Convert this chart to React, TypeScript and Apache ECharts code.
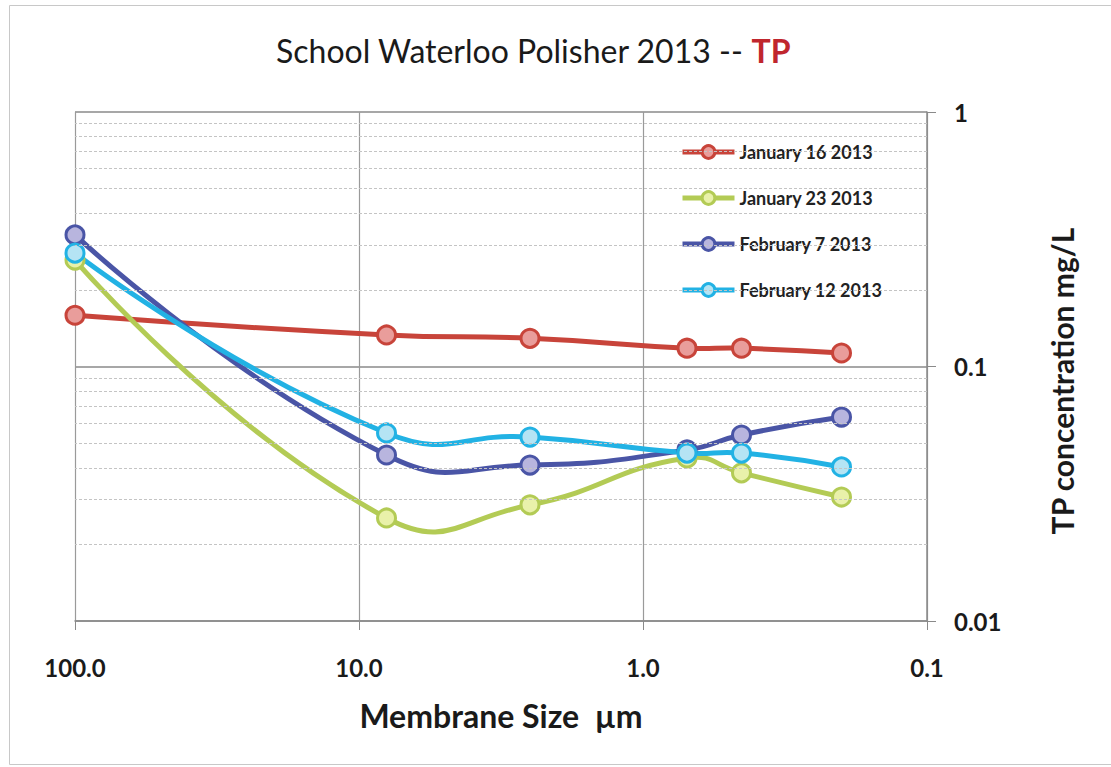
import React, { useEffect, useRef } from 'react';
import * as echarts from 'echarts';

// Membrane sizes (µm)
const sizes = [100, 8, 2.5, 0.7, 0.45, 0.2];
const seriesNames = ['January 16 2013', 'January 23 2013', 'February 7 2013', 'February 12 2013'];
// TP concentration mg/L
const jan16 = [0.159, 0.133, 0.129, 0.118, 0.118, 0.113];
const jan23 = [0.262, 0.0254, 0.0286, 0.0437, 0.0382, 0.0307];
const feb7 = [0.329, 0.0449, 0.041, 0.047, 0.0538, 0.0633];
const feb12 = [0.279, 0.0548, 0.0528, 0.0457, 0.0457, 0.0403];
const minorGridValues = [0.02, 0.03, 0.04, 0.05, 0.06, 0.07, 0.08, 0.09, 0.2, 0.3, 0.4, 0.5, 0.6, 0.7, 0.8, 0.9];

const lineColors = ['#c8443a', '#b3cb55', '#4a55a6', '#22b2e4'];
const fillColors = ['#e99d9b', '#e9f1aa', '#b8b5de', '#b5e4f4'];

const FONT = 'Lato, "Open Sans", sans-serif';

export default function App() {
  const ref = useRef<HTMLDivElement>(null);
  useEffect(() => {
    if (!ref.current) return;
    const chart = echarts.init(ref.current, null, { renderer: 'svg' });
    const allData = [jan16, jan23, feb7, feb12];
    const series: any[] = [];
    // Smoothed curves (Excel-like smoothing, allowed to overshoot), drawn through the axes' scales
    allData.forEach((vals, i) => {
      series.push({
        name: 'curve-' + i,
        type: 'custom',
        data: sizes.map((s, j) => [s, vals[j]]),
        encode: { x: 0, y: 1 },
        z: 2,
        silent: true,
        renderItem: (params: any, api: any) => {
          if (params.dataIndex !== 0) return null;
          const pts = sizes.map((s, j) => api.coord([s, vals[j]]));
          return {
            type: 'polyline',
            shape: { points: pts, smooth: 0.5 },
            style: { stroke: lineColors[i], lineWidth: 5, fill: null, lineJoin: 'round', lineCap: 'round' },
          };
        },
      });
    });
    // Markers
    allData.forEach((vals, i) => {
      series.push({
        name: seriesNames[i],
        type: 'line',
        data: sizes.map((s, j) => [s, vals[j]]),
        symbol: 'circle',
        symbolSize: 18,
        z: 3,
        lineStyle: { color: lineColors[i], width: 0 },
        itemStyle: { color: fillColors[i], borderColor: lineColors[i], borderWidth: 3 },
      });
    });
    series.push({
      name: 'minor',
      type: 'line',
      data: [],
      z: 1,
      silent: true,
      markLine: {
        silent: true,
        symbol: 'none',
        label: { show: false },
        lineStyle: { color: '#c4c4c4', width: 1, type: [3, 2] },
        data: minorGridValues.map((v) => ({ yAxis: v })),
      },
    });
    chart.setOption({
      animation: false,
      backgroundColor: '#ffffff',
      textStyle: { fontFamily: FONT },
      grid: { left: 75, top: 112, right: 184, bottom: 146, containLabel: false },
      legend: {
        data: seriesNames.map((n, i) => ({
          name: n,
          lineStyle: { color: lineColors[i], width: 5, opacity: 1 },
          itemStyle: { color: fillColors[i], borderColor: lineColors[i], borderWidth: 3 },
        })),
        orient: 'vertical',
        left: 670,
        top: 128,
        padding: [14, 12, 14, 10],
        backgroundColor: '#ffffff',
        itemWidth: 52,
        itemHeight: 16,
        itemGap: 26,
        textStyle: { fontFamily: FONT, fontWeight: 'bold', fontSize: 18, color: '#222', lineHeight: 20 },
      },
      xAxis: {
        type: 'log',
        logBase: 10,
        min: 0.1,
        max: 100,
        inverse: true,
        name: 'Membrane Size  µm',
        nameLocation: 'middle',
        nameGap: 78,
        nameTextStyle: { fontFamily: FONT, fontWeight: 'bold', fontSize: 32, color: '#1a1a1a' },
        axisLine: { show: true, lineStyle: { color: '#8a8a8a', width: 1.5 } },
        axisTick: { show: true, length: 9, lineStyle: { color: '#8a8a8a' } },
        axisLabel: {
          margin: 34,
          fontFamily: FONT,
          fontWeight: 'bold',
          fontSize: 24,
          color: '#1a1a1a',
          formatter: (v: number) => (v >= 1 ? v.toFixed(1) : String(v)),
        },
        splitLine: { show: true, lineStyle: { color: '#9a9a9a', width: 1.2 } },
      },
      yAxis: {
        type: 'log',
        logBase: 10,
        min: 0.01,
        max: 1,
        position: 'right',
        axisLine: { show: true, lineStyle: { color: '#8a8a8a', width: 1.5 } },
        axisTick: { show: true, length: 9, lineStyle: { color: '#8a8a8a' } },
        axisLabel: {
          margin: 27,
          fontFamily: FONT,
          fontWeight: 'bold',
          fontSize: 24,
          color: '#1a1a1a',
          formatter: (v: number) => String(Number(v.toPrecision(3))),
        },
        splitLine: { show: true, lineStyle: { color: '#8a8a8a', width: 1.5 } },
      },
      graphic: [
        {
          type: 'rect',
          silent: true,
          z: -10,
          shape: { x: 9.5, y: 5.5, width: 1120, height: 759 },
          style: { fill: 'none', stroke: '#c8c8c8', lineWidth: 1 },
        },
        {
          type: 'text',
          x: 533,
          y: 50,
          style: {
            text: '{a|School Waterloo Polisher 2013 -- }{b|TP}',
            align: 'center',
            verticalAlign: 'middle',
            rich: {
              a: { fontFamily: FONT, fontSize: 32, fill: '#1a1a1a' },
              b: { fontFamily: FONT, fontSize: 32, fontWeight: 'bold', fill: '#c0262d' },
            },
          },
        },
        {
          type: 'text',
          x: 1062,
          y: 381,
          rotation: Math.PI / 2,
          style: {
            text: 'TP concentration mg/L',
            align: 'center',
            verticalAlign: 'middle',
            fontFamily: FONT,
            fontWeight: 'bold',
            fontSize: 30,
            fill: '#1a1a1a',
          },
        },
      ],
      series,
    });
    return () => chart.dispose();
  }, []);
  return <div ref={ref} style={{ position: 'fixed', left: 0, top: 0, width: 1111, height: 767 }} />;
}
